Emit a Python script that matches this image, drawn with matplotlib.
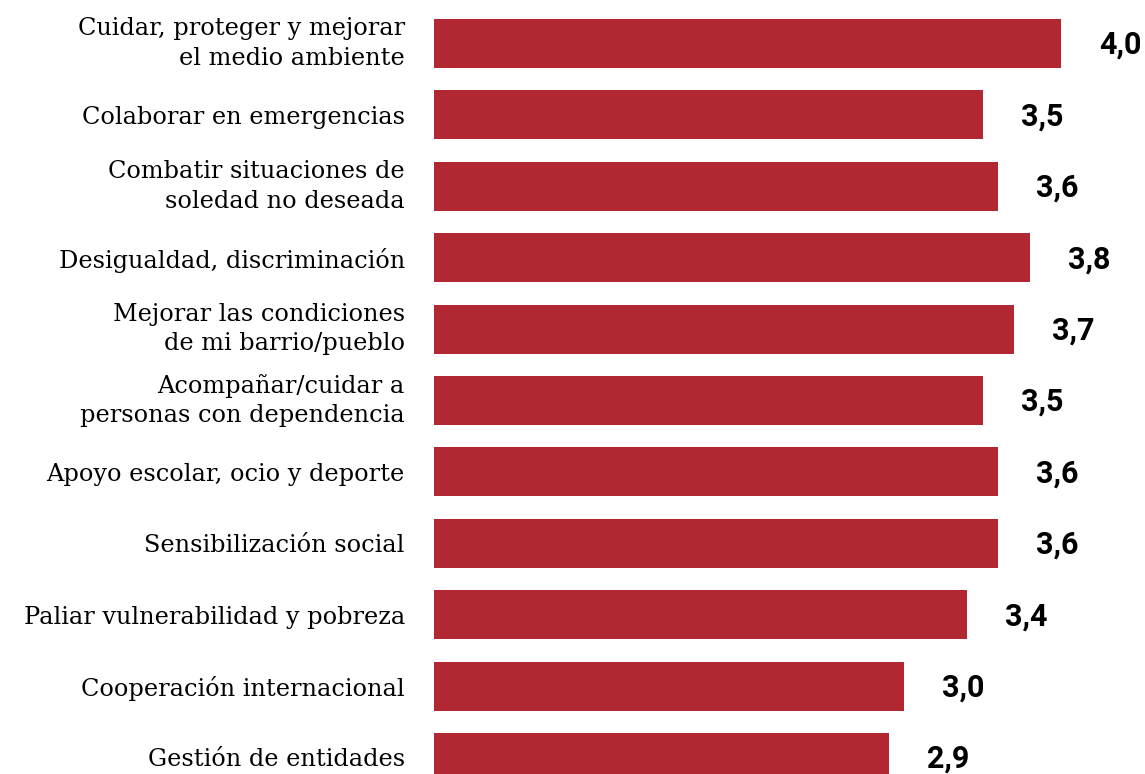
import matplotlib
matplotlib.use("Agg")
import matplotlib.pyplot as plt

plt.rcParams["font.family"] = "serif"
plt.rcParams["font.serif"] = ["DejaVu Serif"]

# datos
categorias = [
    "Cuidar, proteger y mejorar\nel medio ambiente",
    "Colaborar en emergencias",
    "Combatir situaciones de\nsoledad no deseada",
    "Desigualdad, discriminación",
    "Mejorar las condiciones\nde mi barrio/pueblo",
    "Acompañar/cuidar a\npersonas con dependencia",
    "Apoyo escolar, ocio y deporte",
    "Sensibilización social",
    "Paliar vulnerabilidad y pobreza",
    "Cooperación internacional",
    "Gestión de entidades",
]
valores = [4.0, 3.5, 3.6, 3.8, 3.7, 3.5, 3.6, 3.6, 3.4, 3.0, 2.9]
etiquetas = ["4,0", "3,5", "3,6", "3,8", "3,7", "3,5", "3,6", "3,6", "3,4", "3,0", "2,9"]

ROJO = "#b22832"

fig = plt.figure(figsize=(11.45, 7.74), dpi=100)
ax = fig.add_axes([434 / 1145, 0, 711 / 1145, 1])

y = list(range(len(categorias)))
ax.barh(y, valores, height=0.686, color=ROJO)

ax.set_xlim(0, 711 / 156.75)
ax.set_ylim((774 - 43.5) / 71.4, -43.5 / 71.4)

for yi, v, t in zip(y, valores, etiquetas):
    ax.annotate(t, (v, yi), xytext=(27.4, -1), textcoords="offset points",
                ha="left", va="center", fontsize=22, fontweight="bold",
                family="Roboto", color="black")

ax.set_yticks(y)
ax.set_yticklabels(categorias, fontsize=17.3, linespacing=1.37, ha="right")
for lbl in ax.get_yticklabels():
    if "\n" in lbl.get_text():
        lbl.set_va("center")
ax.tick_params(axis="y", length=0, pad=21)
ax.set_xticks([])
for s in ax.spines.values():
    s.set_visible(False)

fig.savefig("out.png", dpi=100)
